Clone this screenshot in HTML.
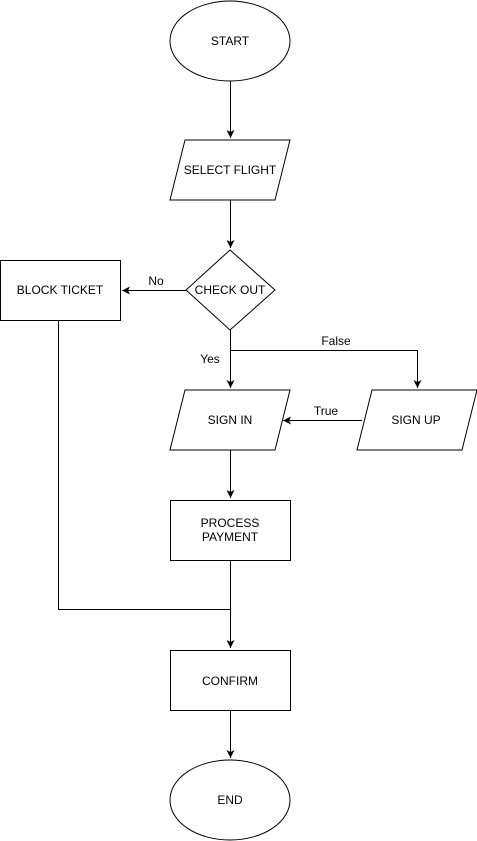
<!DOCTYPE html>
<html><head><style>body{margin:0;background:#fff}svg{display:block}</style></head><body>
<svg width="477" height="841" xmlns="http://www.w3.org/2000/svg" font-family="Liberation Sans, sans-serif" font-size="12">
<defs><marker id="a" markerWidth="10" markerHeight="10" refX="8" refY="5" orient="auto" markerUnits="userSpaceOnUse"><path d="M0,1 L8,5 L0,9 L2,5 Z" fill="#000"/></marker></defs>
<g fill="#fff" stroke="#000" stroke-width="1">
<ellipse cx="230" cy="41" rx="60" ry="40"/>
<polygon points="185,140 290,140 275,200 170,200"/>
<polygon points="230,250 275,290 230,330 186,290"/>
<rect x="0.5" y="260.5" width="120" height="60"/>
<polygon points="185,390 290,390 275,450 170,450"/>
<polygon points="372,390 477,390 462,450 357,450"/>
<rect x="170.5" y="500.5" width="120" height="60"/>
<rect x="170.5" y="650.5" width="120" height="60"/>
<ellipse cx="230" cy="800" rx="60" ry="40"/>
</g>
<g fill="none" stroke="#000" stroke-width="1" marker-end="url(#a)">
<path d="M230.5,81 V138"/>
<path d="M230.5,200 V248"/>
<path d="M186,290.5 H122"/>
<path d="M230.5,330 V388"/>
<path d="M230.5,350.5 H417.5 V388"/>
<path d="M362,420.5 H283"/>
<path d="M230.5,450 V498"/>
<path d="M230.5,560 V648"/>
<path d="M230.5,710 V758"/>
</g>
<path d="M58.5,320 V609.5 H230" fill="none" stroke="#000"/>
<g text-anchor="middle" fill="#000">
<text x="230" y="45">START</text>
<text x="230" y="174">SELECT FLIGHT</text>
<text x="230" y="294">CHECK OUT</text>
<text x="60" y="294">BLOCK TICKET</text>
<text x="230" y="424">SIGN IN</text>
<text x="416" y="424">SIGN UP</text>
<text x="230" y="527">PROCESS</text>
<text x="230" y="541">PAYMENT</text>
<text x="230" y="685">CONFIRM</text>
<text x="230" y="804">END</text>
<text x="156" y="285">No</text>
<text x="210" y="363">Yes</text>
<text x="336" y="345">False</text>
<text x="326" y="415">True</text>
</g>
</svg>
</body></html>
